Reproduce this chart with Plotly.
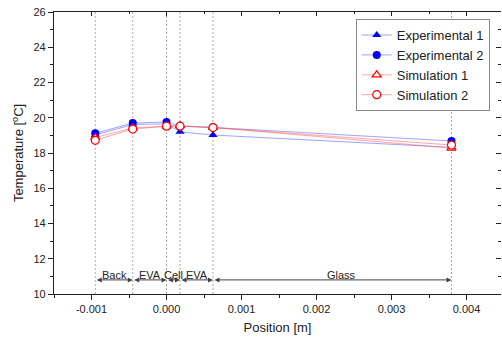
import plotly.graph_objects as go

# Layer boundaries through the module thickness [m]
boundaries = [-0.00095, -0.00045, 0.0, 0.00018, 0.00062, 0.0038]
layer_names = ["Back", "EVA", "Cell", "EVA", "Glass"]

# Measured / simulated temperatures at each boundary [°C]
position = boundaries
exp1 = [19.02, 19.62, 19.65, 19.2, 19.02, 18.32]
exp2 = [19.12, 19.7, 19.76, 19.52, 19.45, 18.68]
sim1 = [18.88, 19.42, 19.52, 19.55, 19.45, 18.28]
sim2 = [18.72, 19.36, 19.52, 19.52, 19.44, 18.45]

x_ticks = [-0.001, 0.0, 0.001, 0.002, 0.003, 0.004]
x_tick_labels = ["-0.001", "0.000", "0.001", "0.002", "0.003", "0.004"]
y_ticks = [10, 12, 14, 16, 18, 20, 22, 24, 26]

x_range = [-0.0015, 0.00446]
y_range = [10, 26]

FONT = "Arial, Liberation Sans, sans-serif"
BLUE = "#0000ff"
RED = "#ff0000"
BLUE_LINE = "rgba(70,70,255,0.5)"
RED_LINE = "rgba(255,80,80,0.5)"

fig = go.Figure()

series = [
    ("Experimental 1", exp1, dict(symbol="triangle-up", size=8, color=BLUE), BLUE_LINE),
    ("Experimental 2", exp2, dict(symbol="circle", size=8, color=BLUE), BLUE_LINE),
    ("Simulation 1", sim1, dict(symbol="triangle-up", size=8, color="white",
                                line=dict(color=RED, width=1.2)), RED_LINE),
    ("Simulation 2", sim2, dict(symbol="circle", size=8, color="white",
                                line=dict(color=RED, width=1.2)), RED_LINE),
]
for name, vals, marker, lc in series:
    fig.add_trace(go.Scatter(x=position, y=vals, name=name, mode="lines+markers",
                             marker=marker, line=dict(color=lc, width=1)))

# empty trace so the mirrored frame axes are rendered
fig.add_trace(go.Scatter(x=[], y=[], xaxis="x2", yaxis="y2", showlegend=False,
                         hoverinfo="skip"))

# dotted boundary lines
for b in boundaries:
    fig.add_shape(type="line", x0=b, x1=b, y0=0, y1=1, xref="x", yref="paper",
                  line=dict(color="#a8a8a8", width=1, dash="2px,2px"), layer="below")

# layer arrows and labels
arrow_y = 10.8
label_y = 11.1
annotations = []
for i, name in enumerate(layer_names):
    a, b = boundaries[i], boundaries[i + 1]
    annotations.append(dict(x=b, y=arrow_y, ax=a, ay=arrow_y, xref="x", yref="y",
                            axref="x", ayref="y", text="", showarrow=True,
                            arrowhead=2, arrowside="end+start", arrowsize=1,
                            arrowwidth=1, arrowcolor="#444444",
                            standoff=0, startstandoff=0))
    annotations.append(dict(x=(a + b) / 2, y=label_y, xref="x", yref="y",
                            text=name, showarrow=False,
                            xshift=9 if name == "Glass" else 0,
                            font=dict(family=FONT, size=11, color="#222222")))

axis_common = dict(showgrid=False, zeroline=False, linecolor="#222222",
                   linewidth=1.2, tickcolor="#222222", tickwidth=1)

fig.update_layout(
    width=502, height=338,
    margin=dict(l=54, r=1, t=12, b=44),
    paper_bgcolor="white", plot_bgcolor="white",
    font=dict(family=FONT, size=11, color="#222222"),
    annotations=annotations,
    xaxis=dict(range=x_range, tickmode="array", tickvals=x_ticks,
               ticktext=x_tick_labels, ticks="outside", ticklen=5,
               showline=True,
               minor=dict(tickmode="linear", tick0=-0.0015, dtick=0.0005,
                          ticks="outside", ticklen=3, tickcolor="#222222"),
               title=dict(text="Position [m]", font=dict(size=13), standoff=8),
               **axis_common),
    yaxis=dict(range=y_range, tickmode="array", tickvals=y_ticks,
               ticks="outside", ticklen=5, showline=True,
               minor=dict(tickmode="linear", tick0=10, dtick=1,
                          ticks="outside", ticklen=3, tickcolor="#222222"),
               title=dict(text="Temperature [<sup>o</sup>C]", font=dict(size=13),
                          standoff=6),
               **axis_common),
    xaxis2=dict(range=x_range, overlaying="x", side="top", tickmode="array",
                tickvals=x_ticks, ticks="inside", ticklen=4, showticklabels=False,
                showline=True,
                minor=dict(tickmode="linear", tick0=-0.0015, dtick=0.0005,
                           ticks="inside", ticklen=2, tickcolor="#222222"),
                **axis_common),
    yaxis2=dict(range=y_range, overlaying="y", side="right", tickmode="array",
                tickvals=y_ticks, ticks="inside", ticklen=5, showticklabels=False,
                showline=False,
                minor=dict(tickmode="linear", tick0=10, dtick=1,
                           ticks="inside", ticklen=3, tickcolor="#222222"),
                showgrid=False, zeroline=False, tickcolor="#222222"),
    legend=dict(x=0.675, y=0.975, xanchor="left", yanchor="top",
                bgcolor="white", bordercolor="#8a8a8a", borderwidth=1,
                font=dict(family=FONT, size=13, color="#222222"),
                tracegroupgap=0, itemwidth=30),
)

fig.write_html("out.html")
